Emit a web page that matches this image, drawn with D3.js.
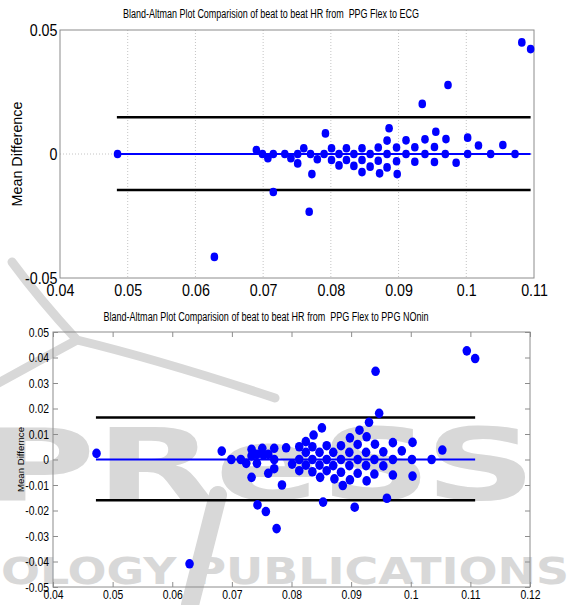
<!DOCTYPE html>
<html lang="en">
<head>
<meta charset="UTF-8">
<title>Bland-Altman plots</title>
<style>
    body { margin: 0; background: #fff; }
    svg text { font-family: "Liberation Sans", Arial, sans-serif; fill: #000; white-space: pre; }
    .box { fill: none; stroke: #8c8c8c; stroke-width: 1; }
    .grid line { stroke: #c4c4c4; stroke-dasharray: 1, 2; }
    .mean { stroke: #0000ff; stroke-width: 2; }
    .limit { stroke: #000; stroke-width: 2.6; }
    .dot { fill: #0000ff; }
    .tick line { stroke: #8c8c8c; }
    svg text.mark { fill: #d8d8d8; font-family: "DejaVu Sans"; font-weight: bold; }
    .swoosh { fill: none; stroke: #d8d8d8; stroke-linecap: round; }
</style>
<script src="https://d3js.org/d3.v7.min.js"></script>
</head>
<body>
<script>
// top plot: PPG Flex vs ECG
const topAvg = [0.0485, 0.0628, 0.0690, 0.0699, 0.0707, 0.0715, 0.0715, 0.0732, 0.0741, 0.0751,
    0.0751, 0.0760, 0.0770, 0.0772, 0.0768, 0.0780, 0.0790, 0.0792, 0.0801, 0.0801,
    0.0812, 0.0812, 0.0823, 0.0823, 0.0834, 0.0834, 0.0846, 0.0846, 0.0846, 0.0858,
    0.0858, 0.0870, 0.0870, 0.0872, 0.0883, 0.0883, 0.0883, 0.0886, 0.0897, 0.0897,
    0.0898, 0.0911, 0.0911, 0.0924, 0.0924, 0.0935, 0.0939, 0.0939, 0.0953, 0.0953,
    0.0955, 0.0969, 0.0970, 0.0973, 0.0985, 0.1002, 0.1002, 0.1018, 0.1036, 0.1054,
    0.1072, 0.1082, 0.1095];
const topDiff = [0, -0.0415, 0.0016, 0, -0.0017, 0, -0.0153, 0, -0.0017, 0,
    -0.0038, 0.0023, 0, -0.0081, -0.0233, -0.0021, 0, 0.0083, 0.0023, -0.0024,
    0, -0.0046, 0.0023, -0.0024, 0, -0.0048, 0.0023, -0.0024, -0.0073, 0,
    -0.0051, 0.0026, -0.0027, -0.0078, 0.0054, 0, -0.0054, 0.0104, 0.0026, -0.0029,
    -0.0081, 0.0055, 0, 0.0027, -0.0031, 0.0202, 0.0059, 0, 0.0028, -0.0032,
    0.0090, 0, 0.0060, 0.0278, -0.0035, 0.0066, 0, 0.0034, 0, 0.0036,
    0, 0.0450, 0.0423];
const topLimits = [0.0148, -0.0145];
const topXTicks = [0.04, 0.05, 0.06, 0.07, 0.08, 0.09, 0.1, 0.11];
const topYTicks = [-0.05, 0, 0.05];

// bottom plot: PPG Flex vs PPG Nonin
const botAvg = [0.0473, 0.0629, 0.0683, 0.0699, 0.0715, 0.0724, 0.0733, 0.0733, 0.0733, 0.0742,
    0.0742, 0.0743, 0.0751, 0.0753, 0.0757, 0.0761, 0.0761, 0.0771, 0.0771, 0.0771,
    0.0775, 0.0784, 0.0791, 0.0801, 0.0813, 0.0813, 0.0813, 0.0824, 0.0824, 0.0824,
    0.0835, 0.0835, 0.0835, 0.0837, 0.0847, 0.0847, 0.0848, 0.0851, 0.0853, 0.0859,
    0.0859, 0.0859, 0.0870, 0.0870, 0.0872, 0.0883, 0.0883, 0.0883, 0.0886, 0.0897,
    0.0897, 0.0898, 0.0898, 0.0906, 0.0911, 0.0911, 0.0911, 0.0914, 0.0925, 0.0925,
    0.0926, 0.0926, 0.0930, 0.0939, 0.0939, 0.0940, 0.0941, 0.0947, 0.0954, 0.0954,
    0.0960, 0.0970, 0.0970, 0.0970, 0.0985, 0.1003, 0.1002, 0.1003, 0.1035, 0.1053,
    0.1094, 0.1108];
const botDiff = [0.0024, -0.0409, 0.0033, 0, 0, -0.0015, 0.0040, 0.0014, -0.0070, 0.0020,
    -0.0015, -0.0178, 0.0044, 0.0018, -0.0204, 0.0020, -0.0054, 0.0044, 0, -0.0036,
    -0.0271, -0.0100, 0.0046, -0.0018, 0.0050, 0, -0.0044, 0.0070, 0.0028, -0.0022,
    0.0050, 0, -0.0048, 0.0096, 0.0028, -0.0022, -0.0070, 0.0124, -0.0167, 0.0054,
    0, -0.0044, 0.0028, -0.0024, -0.0076, 0.0054, 0, -0.0050, -0.0102, 0.0028,
    -0.0024, 0.0085, -0.0080, -0.0187, 0.0059, 0, -0.0054, 0.0115, 0.0028, -0.0024,
    0.0089, -0.0084, 0.0146, 0, -0.0057, 0.0060, 0.0346, 0.0181, 0.0030, -0.0025,
    -0.0152, 0.0066, 0, -0.0061, 0.0034, 0.0067, 0, -0.0065, 0, 0.0037,
    0.0426, 0.0396];
const botLimits = [0.0165, -0.0160];
const botXTicks = [0.04, 0.05, 0.06, 0.07, 0.08, 0.09, 0.1, 0.11, 0.12];
const botYTicks = [-0.05, -0.04, -0.03, -0.02, -0.01, 0, 0.01, 0.02, 0.03, 0.04, 0.05];

const width = 572, height = 605;
const svg = d3.select("body").append("svg")
    .attr("width", width)
    .attr("height", height);

// publisher watermark behind the lower plot
const wm = svg.append("g");
wm.append("path").attr("class", "swoosh").attr("stroke-width", 9)
    .attr("d", "M 12 262 Q 40 300 77 340 Q 160 360 275 398");
wm.append("path").attr("class", "swoosh").attr("stroke-width", 9)
    .attr("d", "M 77 340 Q 40 360 -5 385");
wm.append("path").attr("class", "swoosh").attr("stroke-width", 18)
    .attr("d", "M 218 495 L 190 605");
wm.append("text").attr("class", "mark")
    .attr("transform", "translate(-18,500) scale(1.55,1)")
    .attr("font-size", 100)
    .text("PReSS");
wm.append("text").attr("class", "mark")
    .attr("x", 1).attr("y", 584)
    .attr("font-size", 37)
    .attr("textLength", 568).attr("lengthAdjust", "spacingAndGlyphs")
    .text("OLOGY PUBLICATIONS");

const fmt = d => String(+d.toFixed(3));

function drawPlot(c) {
    const g = svg.append("g");
    const x = d3.scaleLinear().domain(c.xDomain).range([c.left, c.right]);
    const y = d3.scaleLinear().domain(c.yDomain).range([c.bottom, c.top]);

    if (c.grid) {
        const grid = g.append("g").attr("class", "grid");
        grid.selectAll(".gx").data(c.xTicks.slice(1, -1)).join("line")
            .attr("x1", d => x(d)).attr("x2", d => x(d))
            .attr("y1", c.top).attr("y2", c.bottom);
        grid.append("line")
            .attr("x1", c.left).attr("x2", c.right)
            .attr("y1", y(0)).attr("y2", y(0));
    }

    const inner = c.innerTicks ? -5 : 0;
    const xAxis = g.append("g")
        .attr("transform", `translate(0,${c.bottom})`)
        .call(d3.axisBottom(x).tickValues(c.xTicks).tickFormat(fmt)
            .tickSizeInner(inner).tickSizeOuter(0).tickPadding(c.xPad));
    const yAxis = g.append("g")
        .attr("transform", `translate(${c.left},0)`)
        .call(d3.axisLeft(y).tickValues(c.yTicks).tickFormat(fmt)
            .tickSizeInner(inner).tickSizeOuter(0).tickPadding(c.yPad));
    [xAxis, yAxis].forEach(a => {
        a.select(".domain").remove();
        a.selectAll("text")
            .attr("font-size", c.tickSize)
            .attr("fill", "#000")
            .attr("transform", `scale(${c.tickScale},1)`);
    });
    if (c.innerTicks) {
        g.append("g").attr("transform", `translate(0,${c.top})`)
            .call(d3.axisTop(x).tickValues(c.xTicks).tickFormat("").tickSizeInner(-5).tickSizeOuter(0))
            .select(".domain").remove();
        g.append("g").attr("transform", `translate(${c.right},0)`)
            .call(d3.axisRight(y).tickValues(c.yTicks).tickFormat("").tickSizeInner(-5).tickSizeOuter(0))
            .select(".domain").remove();
    }

    g.append("rect").attr("class", "box")
        .attr("x", c.left).attr("y", c.top)
        .attr("width", c.right - c.left).attr("height", c.bottom - c.top);

    // limits of agreement and mean line
    g.selectAll(".limit").data(c.limits).join("line")
        .attr("class", "limit")
        .attr("x1", x(c.span[0])).attr("x2", x(c.span[1]))
        .attr("y1", d => y(d)).attr("y2", d => y(d));
    g.append("line").attr("class", "mean")
        .attr("x1", x(c.span[0])).attr("x2", x(c.span[1]))
        .attr("y1", y(0)).attr("y2", y(0));

    g.selectAll(".dot").data(c.avg).join("ellipse")
        .attr("class", "dot")
        .attr("cx", d => x(d))
        .attr("cy", (d, i) => y(c.diff[i]))
        .attr("rx", c.rx).attr("ry", c.ry);

    g.append("text")
        .attr("x", c.titleX).attr("y", c.titleY)
        .attr("text-anchor", "middle")
        .attr("font-size", c.titleSize)
        .attr("textLength", c.titleLen).attr("lengthAdjust", "spacingAndGlyphs")
        .text(c.title);

    g.append("text")
        .attr("transform", `translate(${c.labelX},${(c.top + c.bottom) / 2}) rotate(-90)`)
        .attr("text-anchor", "middle")
        .attr("font-size", c.labelSize)
        .attr("textLength", c.labelLen).attr("lengthAdjust", "spacingAndGlyphs")
        .text(c.label);
}

drawPlot({
    left: 60, right: 534, top: 30, bottom: 278,
    xDomain: [0.04, 0.11], yDomain: [-0.05, 0.05],
    xTicks: topXTicks, yTicks: topYTicks,
    avg: topAvg, diff: topDiff, limits: topLimits, span: [0.0484, 0.1095],
    grid: true, innerTicks: false,
    tickSize: 17, tickScale: 0.84, xPad: 6, yPad: 3,
    rx: 3.8, ry: 4.3,
    title: "Bland-Altman Plot Comparision of beat to beat HR from  PPG Flex to ECG",
    titleX: 271, titleY: 18, titleSize: 12, titleLen: 296,
    label: "Mean Difference", labelX: 22, labelSize: 14, labelLen: 105
});

drawPlot({
    left: 53, right: 530, top: 332, bottom: 587,
    xDomain: [0.04, 0.12], yDomain: [-0.05, 0.05],
    xTicks: botXTicks, yTicks: botYTicks,
    avg: botAvg, diff: botDiff, limits: botLimits, span: [0.0472, 0.1108],
    grid: false, innerTicks: true,
    tickSize: 13, tickScale: 0.8, xPad: 3, yPad: 5,
    rx: 4.3, ry: 4.8,
    title: "Bland-Altman Plot Comparision of beat to beat HR from  PPG Flex to PPG NOnin",
    titleX: 266, titleY: 321, titleSize: 12.5, titleLen: 325,
    label: "Mean Differnce", labelX: 24, labelSize: 9.5, labelLen: 65
});
</script>
</body>
</html>
